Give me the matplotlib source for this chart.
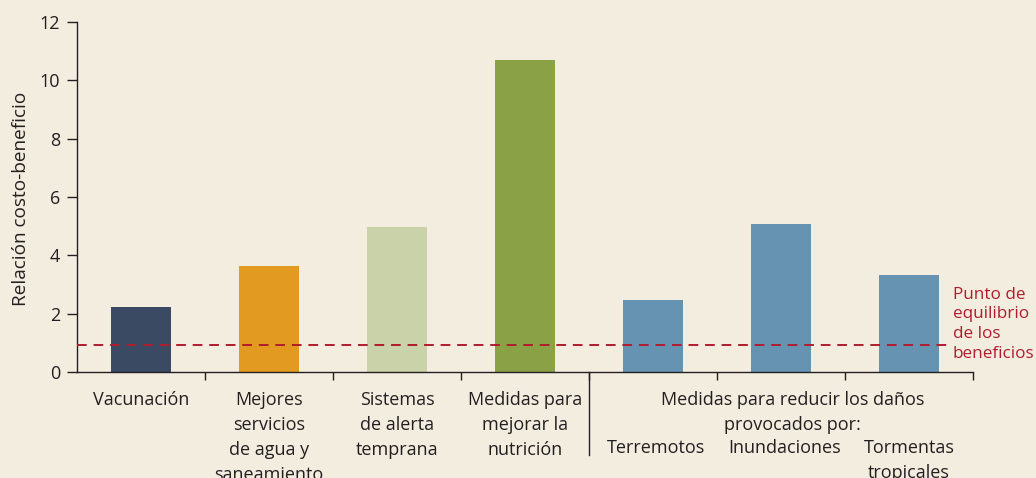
import matplotlib
matplotlib.use("Agg")
import matplotlib.pyplot as plt
from matplotlib.transforms import blended_transform_factory

plt.rcParams['font.family'] = ['Open Sans', 'DejaVu Sans']

categories = ["Vacunación", "Mejores\nservicios\nde agua y\nsaneamiento", "Sistemas\nde alerta\ntemprana",
              "Medidas para\nmejorar la\nnutrición", "Terremotos", "Inundaciones", "Tormentas\ntropicales"]
values = [2.23, 3.63, 4.97, 10.7, 2.47, 5.07, 3.33]
colors = ["#3b4a63", "#e39a21", "#c9d2a9", "#8aa245", "#6793b3", "#6793b3", "#6793b3"]
group_label = "Medidas para reducir los daños\nprovocados por:"
breakeven = 0.93
breakeven_label = "Punto de\nequilibrio\nde los\nbeneficios"
yticks = [0, 2, 4, 6, 8, 10, 12]

bg = "#f3ede0"
red = "#b01c2e"
txt = "#231f20"

fig = plt.figure(figsize=(10.36, 4.78), dpi=100, facecolor=bg)
ax = fig.add_axes([77/1036, 106/478, 896/1036, 350/478], facecolor=bg)

x = list(range(len(categories)))
ax.bar(x, values, width=0.475, color=colors, zorder=2)
ax.set_xlim(-0.5, 6.5)
ax.set_ylim(0, 12)
ax.set_yticks(yticks)
ax.set_yticklabels([str(t) for t in yticks], fontsize=13, color=txt)
ax.tick_params(axis='y', direction='out', length=7, width=1, color=txt, pad=5)
ax.set_xticks([i + 0.5 for i in range(6)] + [6.5])
ax.set_xticklabels([])
ax.tick_params(axis='x', direction='out', length=6, width=1, color=txt)
for s in ['top', 'right']:
    ax.spines[s].set_visible(False)
for s in ['left', 'bottom']:
    ax.spines[s].set_color(txt)
    ax.spines[s].set_linewidth(1)

ax.set_ylabel("Relación costo-beneficio", fontsize=13.7, color=txt)
ax.yaxis.set_label_coords(-0.052, 0.494)

# break-even line
ax.plot([-0.5, 6.32], [breakeven, breakeven], linestyle=(0, (5, 3.5)), color=red, lw=1.4, zorder=3)
ax.text(6.34, 2.93, breakeven_label, color=red, fontsize=12.3, va='top', ha='left',
        linespacing=1.32, clip_on=False)

trans = blended_transform_factory(ax.transData, ax.transAxes)
yl = -0.055
ls = 1.5
for i in range(4):
    ax.text(i, yl, categories[i], transform=trans, ha='center', va='top', fontsize=13,
            color=txt, linespacing=ls)
ax.text(5.09, yl, group_label, transform=trans, ha='center', va='top', fontsize=13,
        color=txt, linespacing=ls)
yl2 = yl - 2 * 24 / 350
sub_x = [4.02, 5.03, 6.0]
for i, xx in zip(range(4, 7), sub_x):
    ax.text(xx, yl2, categories[i], transform=trans, ha='center', va='top', fontsize=13,
            color=txt, linespacing=ls)

# separator
ax.plot([3.5, 3.5], [0, -0.237], transform=trans, color=txt, lw=1, clip_on=False)

fig.savefig("out.png", dpi=100, facecolor=bg)
